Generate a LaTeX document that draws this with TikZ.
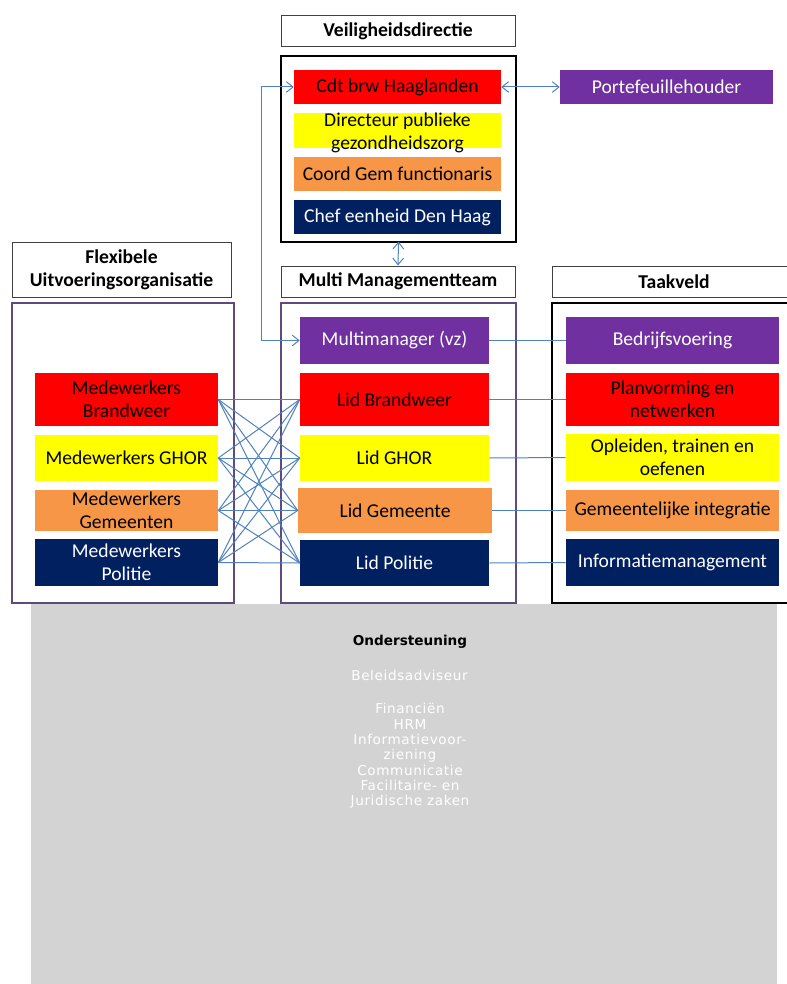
\documentclass[tikz,border=0pt]{standalone}
\usepackage{fontspec}
\setmainfont{Carlito}
\newfontfamily\supfont{DejaVu Sans}
\newfontfamily\supwide[LetterSpace=4.5]{DejaVu Sans}
\usetikzlibrary{arrows.meta}

\definecolor{vrred}{HTML}{FF0000}
\definecolor{vryellow}{HTML}{FFFF00}
\definecolor{vrorange}{HTML}{F79646}
\definecolor{vrnavy}{HTML}{002060}
\definecolor{vrpurple}{HTML}{7030A0}
\definecolor{vrframe}{HTML}{604A7B}
\definecolor{linkblue}{HTML}{4F81BD}
\definecolor{supgrey}{HTML}{D3D3D3}

\newcommand{\mainsz}{\fontsize{14.7pt}{17.4pt}\selectfont}
\newcommand{\supsz}{\fontsize{10.2pt}{11.5pt}\selectfont}

\begin{document}
\begin{tikzpicture}[x=0.75pt,y=-0.75pt,
    >={Straight Barb[length=5pt,width=8pt]},
    hdr/.style={draw=black!75,line width=0.75pt,fill=white,inner sep=0pt,align=center,font=\mainsz\bfseries,minimum height=23.25pt},
    frame/.style={draw=vrframe,line width=1.1pt,inner sep=0pt,outer sep=0pt,minimum height=225pt},
    item/.style={inner sep=0pt,align=center,font=\mainsz,text=black},
    dark/.style={item,text=white},
    vditem/.style={minimum width=155.25pt},
    flexitem/.style={minimum width=137.25pt},
    mmtitem/.style={minimum width=141.75pt},
    taakitem/.style={minimum width=159.75pt},
    suptext/.style={font=\supwide\supsz,text=white,inner sep=0pt,align=center},
    link/.style={draw=linkblue,line width=0.75pt}]
  \useasboundingbox (0,0) rectangle (786,984);

  % Veiligheidsdirectie
  \node[hdr,minimum width=175.5pt] (vdhdr) at (398,31.5) {Veiligheidsdirectie};
  \node[draw=black,line width=1.5pt,inner sep=0pt,outer sep=0pt,minimum width=176.25pt,minimum height=138.75pt] (vd) at (398.5,149) {};
  \node[item,vditem,fill=vrred,minimum height=25.5pt] (cdt) at (397.5,87) {Cdt brw Haaglanden};
  \node[item,vditem,fill=vryellow,minimum height=26.25pt] (dpg) at (397.5,130.5) {};
  \node[item] (dpgtext) at (397.5,133) {Directeur publieke\\gezondheidszorg};
  \node[item,vditem,fill=vrorange,minimum height=25.5pt] (cgf) at (397.5,174) {Coord Gem functionaris};
  \node[dark,vditem,fill=vrnavy,minimum height=25.5pt] (ceh) at (397.5,217) {Chef eenheid Den Haag};
  \node[dark,taakitem,fill=vrpurple,minimum height=25.5pt] (pfh) at (666.5,87) {Portefeuillehouder};

  % kolommen
  \node[hdr,minimum width=164.25pt,minimum height=41.25pt] (flexhdr) at (121.5,269.5) {Flexibele\\Uitvoeringsorganisatie};
  \node[frame,minimum width=166.5pt] (flex) at (123,453) {};
  \node[hdr,minimum width=175.5pt] (mmthdr) at (398,281.5) {Multi Managementteam};
  \node[frame,minimum width=176.25pt] (mmt) at (398.5,453) {};
  \node[hdr,minimum width=183pt] (taakhdr) at (674,281.5) {Taakveld};
  \node[frame,draw=black,line width=1.5pt,minimum width=183pt] (taak) at (674,453) {};

  % flexibele uitvoeringsorganisatie
  \node[item,flexitem,fill=vrred,minimum height=39.75pt] (mwbrw) at (126.5,399.5) {Medewerkers\\Brandweer};
  \node[item,flexitem,fill=vryellow,minimum height=34.5pt] (mwghor) at (126.5,458) {Medewerkers GHOR};
  \node[item,flexitem,fill=vrorange,minimum height=30.75pt] (mwgem) at (126.5,510.5) {Medewerkers\\Gemeenten};
  \node[dark,flexitem,fill=vrnavy,minimum height=35.25pt] (mwpol) at (126.5,562.5) {Medewerkers\\Politie};

  % multi managementteam
  \node[dark,mmtitem,fill=vrpurple,minimum height=35.25pt] (mm) at (394.5,340.5) {Multimanager (vz)};
  \node[item,mmtitem,fill=vrred,minimum height=39.75pt] (lidbrw) at (394.5,399.5) {Lid Brandweer};
  \node[item,mmtitem,fill=vryellow,minimum height=34.5pt] (lidghor) at (394.5,458) {Lid GHOR};
  \node[item,fill=vrorange,minimum width=145.5pt,minimum height=33.75pt] (lidgem) at (395,510.5) {Lid Gemeente};
  \node[dark,mmtitem,fill=vrnavy,minimum height=34.5pt] (lidpol) at (394.5,563) {Lid Politie};

  % taakveld
  \node[dark,taakitem,fill=vrpurple,minimum height=35.25pt] (bv) at (672.5,340.5) {Bedrijfsvoering};
  \node[item,taakitem,fill=vrred,minimum height=39.75pt] (plan) at (672.5,399.5) {Planvorming en\\netwerken};
  \node[item,taakitem,fill=vryellow,minimum height=35.25pt] (opl) at (672.5,457.5) {Opleiden, trainen en\\oefenen};
  \node[item,taakitem,fill=vrorange,minimum height=30.75pt] (gemint) at (672.5,510.5) {Gemeentelijke integratie};
  \node[dark,taakitem,fill=vrnavy,minimum height=35.25pt] (im) at (672.5,562.5) {Informatiemanagement};

  % verbindingen
  \draw[link,<->] (cdt) -- (pfh);
  \draw[link,<->] (cdt.west) -- ++(-32,0) |- (mm.west);
  \draw[link,<->] (vd.south) -- (mmthdr.north);
  \foreach \a in {mwbrw,mwghor,mwgem,mwpol}
    \foreach \b in {lidbrw,lidghor,lidgem,lidpol}
      \draw[link] (\a.east) -- (\b.west);
  \foreach \a/\b in {mm/bv,lidbrw/plan,lidghor/opl,lidgem/gemint,lidpol/im}
    \draw[link] (\a.east) -- (\b.west);

  % ondersteuning
  \fill[supgrey] (31,603.5) rectangle (777,990);
  \node[font=\supfont\supsz\bfseries,text=black,inner sep=0pt] (ondtitle) at (410,642) {Ondersteuning};
  \node[suptext] (beleid) at (409.5,675) {Beleidsadviseur};
  \node[suptext] (staf) at (410,756) {Financiën\\HRM\\Informatievoor-\\ziening\\Communicatie\\Facilitaire- en\\Juridische zaken};
\end{tikzpicture}
\end{document}
